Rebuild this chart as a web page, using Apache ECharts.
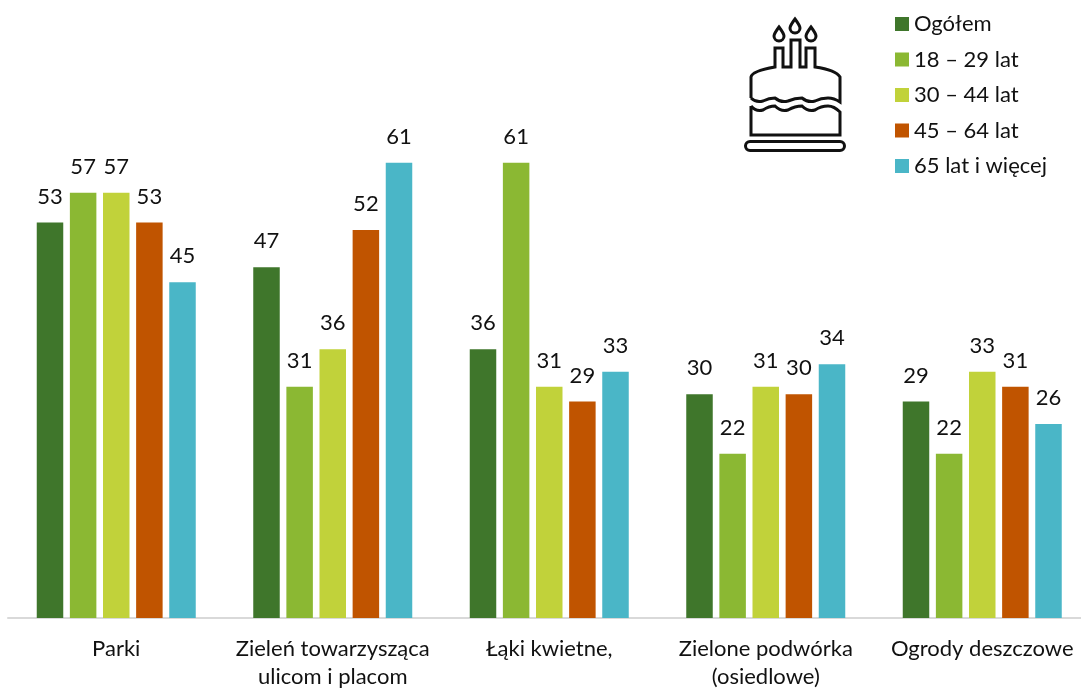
<!DOCTYPE html>
<html>
<head>
<meta charset="utf-8">
<title>Wykres</title>
<script src="https://cdn.jsdelivr.net/npm/echarts@6/dist/echarts.min.js"></script>
<style>
  html, body { margin: 0; padding: 0; background: #fff; }
  #main { width: 1081px; height: 689px; }
</style>
</head>
<body>
<div id="main"></div>
<script>
var categories = ['Parki', 'Zieleń towarzysząca\nulicom i placom', 'Łąki kwietne,', 'Zielone podwórka\n(osiedlowe)', 'Ogrody deszczowe'];
var ogolem = [53, 47, 36, 30, 29];
var lat18 = [57, 31, 61, 22, 22];
var lat30 = [57, 36, 31, 31, 33];
var lat45 = [53, 52, 29, 30, 31];
var lat65 = [45, 61, 33, 34, 26];

var names = ['Ogółem', '18 – 29 lat', '30 – 44 lat', '45 – 64 lat', '65 lat i więcej'];
var colors = ['#3F762B', '#8BB833', '#C1D23A', '#C05400', '#4AB6C7'];
var values = [ogolem, lat18, lat30, lat45, lat65];

var font = 'Lato';
var chart = echarts.init(document.getElementById('main'));

var cake = [
  // dolne pietro
  'M751,106 L751,135 L840,135 L840,112 Q834,106 828,106 Q821,106 815,110 Q808,112 802,106 Q795,106 788,110 Q781,112 775,106 Q769,106 763,110 Q756,112 751,106',
  // gorne pietro ze swieczkami
  'M751,98 L751,77 Q752,71 775,67 L775,48 L783,48 L783,67 L791,67 L791,40 L800,40 L800,67 L806,67 L806,48 L815,48 L815,67 Q836,70 840,77 L840,102 Q834,98 828,98 Q821,98 815,101 Q808,103 802,98 Q795,98 788,101 Q781,103 775,98 Q769,98 763,101 Q756,103 751,98',
  // plomienie
  'M779,27 C776,31 774,34 774,36 A5,5 0 1 0 784,36 C784,34 782,31 779,27 Z',
  'M795,19 C792,23 790,26 790,28 A5,5 0 1 0 800,28 C800,26 798,23 795,19 Z',
  'M811,27 C808,31 806,34 806,36 A5,5 0 1 0 816,36 C816,34 814,31 811,27 Z',
  // podstawka
  'M750,141.5 L840,141.5 A4.5,4.5 0 0 1 840,150.5 L750,150.5 A4.5,4.5 0 0 1 750,141.5 Z'
];
cake.forEach(function (d, i) {
  echarts.graphic.registerShape('cake' + i, echarts.graphic.extendPath(d, {}));
});

chart.setOption({
  animation: false,
  backgroundColor: '#fff',
  textStyle: { fontFamily: font },
  grid: { left: 8, top: 21, width: 1082.5, height: 597, outerBoundsMode: 'none' },
  legend: {
    left: 895,
    top: 13,
    padding: 0,
    orient: 'vertical',
    itemWidth: 14,
    itemHeight: 14,
    itemGap: 13.5,
    icon: 'rect',
    selectedMode: false,
    textStyle: { fontFamily: font, fontSize: 22, color: '#111', height: 22, lineHeight: 22 }
  },
  xAxis: {
    type: 'category',
    data: categories,
    axisTick: { show: false },
    axisLine: { lineStyle: { color: '#D9D9D9', width: 2 } },
    axisLabel: { fontFamily: font, fontSize: 22, color: '#111', lineHeight: 28, margin: 17, interval: 0 }
  },
  yAxis: { type: 'value', min: 0, max: 80, show: false },
  graphic: cake.map(function (d, i) {
    return {
      type: 'cake' + i,
      style: { fill: null, stroke: '#111', lineWidth: 3 },
      silent: true
    };
  }),
  series: names.map(function (name, i) {
    return {
      name: name,
      type: 'bar',
      data: values[i],
      barWidth: 26.5,
      barGap: '25%',
      itemStyle: { color: colors[i] },
      label: { show: true, position: 'top', distance: 15, fontFamily: font, fontSize: 22, color: '#111' }
    };
  })
});
</script>
</body>
</html>
